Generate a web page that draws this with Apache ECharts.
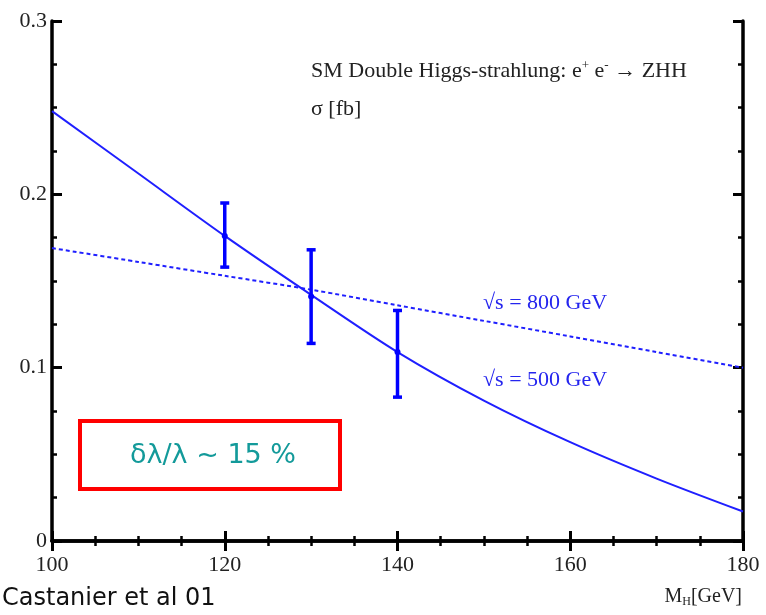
<!DOCTYPE html>
<html>
<head>
<meta charset="utf-8">
<script src="https://cdn.jsdelivr.net/npm/echarts@6/dist/echarts.min.js"></script>
<style>
html,body{margin:0;padding:0;background:#fff;}
#chart{width:766px;height:615px;}
</style>
</head>
<body>
<div id="chart"></div>
<script>
// ---- data ----
const massH = [100, 110, 120, 130, 140, 150, 160, 170, 180];
const sigma500 = [0.248, 0.212, 0.176, 0.142, 0.109, 0.081, 0.057, 0.036, 0.017];
const sigma800 = [0.169, 0.161, 0.153, 0.145, 0.136, 0.127, 0.118, 0.109, 0.100];
const errMass = [120, 130, 140];
const errMid = [0.176, 0.141, 0.109];
const errLow = [0.158, 0.114, 0.083];
const errHigh = [0.195, 0.168, 0.133];
const xTickLabels = ['100', '120', '140', '160', '180'];
const yTickLabels = ['0', '0.1', '0.2', '0.3'];

const chart = echarts.init(document.getElementById('chart'), null, {renderer: 'canvas'});

const serif = '"Liberation Serif", "DejaVu Serif", serif';
const blue = '#1f1fff';

const line500 = massH.map((x, i) => [x, sigma500[i]]);
const line800 = massH.map((x, i) => [x, sigma800[i]]);
const errData = errMass.map((x, i) => [x, errMid[i], errLow[i], errHigh[i]]);

const axisCommon = {
  type: 'value',
  axisLine: {show: true, lineStyle: {color: '#000', width: 3.5}},
  axisTick: {show: true, inside: true, length: 10, lineStyle: {color: '#000', width: 3}},
  minorTick: {show: true, splitNumber: 4, length: 5, lineStyle: {color: '#000', width: 2.5}},
  splitLine: {show: false},
  minorSplitLine: {show: false}
};

chart.setOption({
  animation: false,
  backgroundColor: '#fff',
  grid: {left: 52, right: 23, top: 21, bottom: 74, containLabel: false},
  xAxis: [
    Object.assign({}, axisCommon, {
      min: 100, max: 180, interval: 20, position: 'bottom',
      axisLabel: {
        show: true, margin: 13, color: '#222', fontFamily: serif, fontSize: 22,
        formatter: v => xTickLabels[Math.round((v - 100) / 20)]
      }
    }),
    Object.assign({}, axisCommon, {
      min: 100, max: 180, interval: 20, position: 'top',
      axisLabel: {show: false}
    })
  ],
  yAxis: [
    Object.assign({}, axisCommon, {
      min: 0, max: 0.3, interval: 0.1, position: 'left',
      axisLabel: {
        show: true, margin: 5, color: '#222', fontFamily: serif, fontSize: 22,
        formatter: v => yTickLabels[Math.round(v / 0.1)]
      }
    }),
    Object.assign({}, axisCommon, {
      min: 0, max: 0.3, interval: 0.1, position: 'right',
      axisLabel: {show: false}
    })
  ],
  series: [
    {
      name: 'sqrt(s)=500 GeV', type: 'line', data: line500, smooth: 0.3,
      showSymbol: false, lineStyle: {color: blue, width: 2}, z: 3
    },
    {
      name: 'sqrt(s)=800 GeV', type: 'line', data: line800, smooth: 0.3,
      showSymbol: false, lineStyle: {color: blue, width: 2, type: [4, 3]}, z: 3
    },
    {
      name: 'errors', type: 'custom', data: errData, z: 4,
      renderItem: function (params, api) {
        const x = api.value(0);
        const mid = api.coord([x, api.value(1)]);
        const lo = api.coord([x, api.value(2)]);
        const hi = api.coord([x, api.value(3)]);
        const cap = 4.5;
        const st = {stroke: '#0000ff', lineWidth: 3.5};
        return {
          type: 'group',
          children: [
            {type: 'line', shape: {x1: lo[0], y1: lo[1], x2: hi[0], y2: hi[1]}, style: st},
            {type: 'line', shape: {x1: lo[0] - cap, y1: lo[1], x2: lo[0] + cap, y2: lo[1]}, style: st},
            {type: 'line', shape: {x1: hi[0] - cap, y1: hi[1], x2: hi[0] + cap, y2: hi[1]}, style: st},
            {type: 'circle', shape: {cx: mid[0], cy: mid[1], r: 3}, style: {fill: '#0000ff'}}
          ]
        };
      }
    }
  ],
  graphic: [
    {
      type: 'text', left: 311, top: 59,
      style: {
        text: '{t|SM Double Higgs-strahlung: e}{s|+}{t| e}{s|-}{t| → ZHH}',
        rich: {
          t: {fontFamily: serif, fontSize: 22, fill: '#222'},
          s: {fontFamily: serif, fontSize: 13, fill: '#222', verticalAlign: 'top', padding: [0, 0, 12, 0]}
        }
      }
    },
    {
      type: 'text', left: 311, top: 98,
      style: {text: 'σ [fb]', fontFamily: serif, fontSize: 22, fill: '#222'}
    },
    {
      type: 'text', left: 483, top: 292,
      style: {text: '√s = 800 GeV', fontFamily: serif, fontSize: 22, fill: '#2525ee'}
    },
    {
      type: 'text', left: 483, top: 369,
      style: {text: '√s = 500 GeV', fontFamily: serif, fontSize: 22, fill: '#2525ee'}
    },
    {
      type: 'rect', shape: {x: 80, y: 421, width: 260, height: 68},
      style: {fill: '#fff', stroke: '#ff0000', lineWidth: 4}
    },
    {
      type: 'text', x: 213, y: 456,
      style: {text: 'δλ/λ ~ 15 %', fontFamily: '"DejaVu Sans", sans-serif', fontSize: 27, fill: '#139a9a', align: 'center', verticalAlign: 'middle'}
    },
    {
      type: 'text', left: 2, top: 587,
      style: {text: 'Castanier et al 01', fontFamily: '"DejaVu Sans", sans-serif', fontSize: 24, fill: '#111'}
    },
    {
      type: 'text', right: 24, top: 587,
      style: {
        text: '{t|M}{s|H}{t|[GeV]}',
        rich: {
          t: {fontFamily: serif, fontSize: 20, fill: '#222'},
          s: {fontFamily: serif, fontSize: 12, fill: '#222', verticalAlign: 'bottom', padding: [9, 0, 0, 0]}
        }
      }
    }
  ]
});
</script>
</body>
</html>
